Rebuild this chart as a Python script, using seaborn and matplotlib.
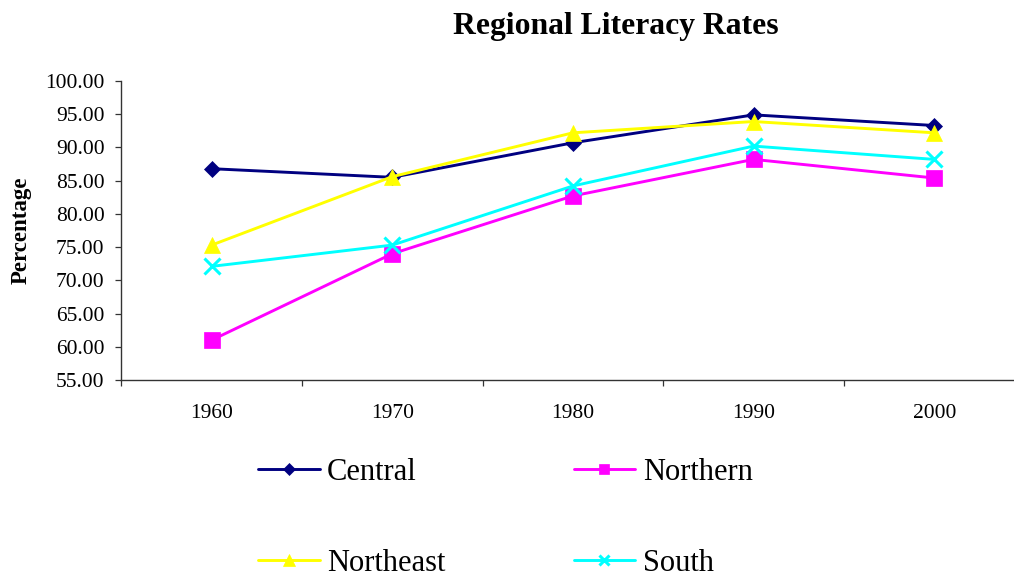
import matplotlib
matplotlib.use('Agg')
import pandas as pd
import seaborn as sns
import matplotlib.pyplot as plt
from matplotlib.ticker import FixedLocator, FormatStrFormatter

# ---- data ----
years = ['1960', '1970', '1980', '1990', '2000']
regions = ['Central', 'Northern', 'Northeast', 'South']
central = [86.8, 85.5, 90.7, 94.9, 93.3]
northern = [61.0, 74.0, 82.7, 88.2, 85.4]
northeast = [75.3, 85.6, 92.2, 93.9, 92.2]
south = [72.1, 75.3, 84.2, 90.2, 88.2]

colors = {'Central': '#000080', 'Northern': '#FF00FF',
          'Northeast': '#FFFF00', 'South': '#00FFFF'}
markers = {'Central': 'D', 'Northern': 's', 'Northeast': '^', 'South': 'x'}
msizes = {'Central': 8.5, 'Northern': 11, 'Northeast': 12, 'South': 11}

df = pd.DataFrame({
    'Year': years * 4,
    'Region': [r for r in regions for _ in years],
    'Rate': central + northern + northeast + south,
})

sns.set_style('white')
plt.rcParams['font.family'] = ['Liberation Serif', 'DejaVu Serif']
plt.rcParams['text.color'] = 'black'
plt.rcParams['xtick.color'] = 'black'
plt.rcParams['ytick.color'] = 'black'

fig = plt.figure(figsize=(10.14, 5.76), dpi=100)
ax = fig.add_axes([0.1196, 0.3403, 0.8908, 0.5191])

# one call per series, in Excel's drawing order (later on top)
lines = {}
for r in regions:
    sub = df[df['Region'] == r]
    sns.lineplot(data=sub, x='Year', y='Rate', color=colors[r],
                 marker=markers[r], markersize=msizes[r], linewidth=2.1,
                 markerfacecolor=colors[r], markeredgecolor=colors[r],
                 markeredgewidth=2.2 if r == 'South' else 0.5,
                 sort=False, ax=ax)
    lines[r] = ax.get_lines()[-1]

ax.set_xlim(-0.5, 4.5)
ax.set_ylim(55, 100)
ax.yaxis.set_major_locator(FixedLocator([55 + 5 * i for i in range(10)]))
ax.yaxis.set_major_formatter(FormatStrFormatter('%.2f'))
ax.xaxis.set_minor_locator(FixedLocator([i - 0.5 for i in range(6)]))
ax.tick_params(axis='x', which='major', length=0, pad=17, labelsize=15.5,
               labelcolor='black')
ax.tick_params(axis='x', which='minor', length=4.5, width=0.9,
               direction='out', color='#333333', bottom=True)
ax.tick_params(axis='y', which='major', length=4, width=0.9,
               direction='out', color='#333333', left=True, pad=8,
               labelsize=15.5, labelcolor='black')

for s in ['top', 'right']:
    ax.spines[s].set_visible(False)
for s in ['left', 'bottom']:
    ax.spines[s].set_color('#333333')
    ax.spines[s].set_linewidth(1.0)

ax.set_xlabel('')
ax.set_ylabel('')
fig.text(0.0205, 0.6, 'Percentage', rotation=90, ha='center', va='center',
         fontsize=16.5, fontweight='bold', color='black')

fig.text(0.6075, 0.954, 'Regional Literacy Rates', ha='center', va='center',
         fontsize=22.8, fontweight='bold', color='black')

order = ['Central', 'Northeast', 'Northern', 'South']
handles = [lines[r] for r in order]
leg = fig.legend(handles, order, loc='center', bbox_to_anchor=(0.4985, 0.1013),
                 ncol=2, frameon=False, fontsize=22, handlelength=2.0,
                 handletextpad=0.25, columnspacing=4.2, labelspacing=2.03,
                 borderpad=0, markerscale=0.7)
for t in leg.get_texts():
    t.set_color('black')

fig.savefig('out.png', dpi=100)
